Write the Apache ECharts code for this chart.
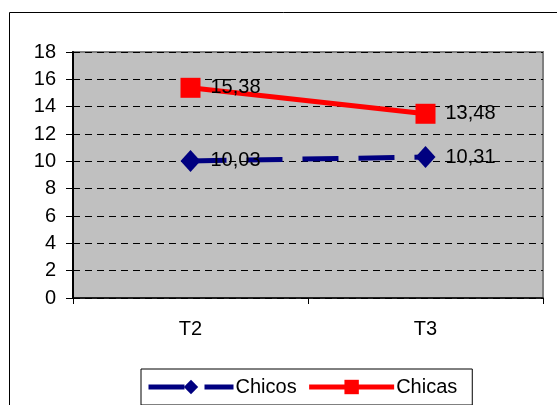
<!DOCTYPE html>
<html>
<head>
<meta charset="utf-8">
<script src="https://cdn.jsdelivr.net/npm/echarts@6/dist/echarts.min.js"></script>
<style>
  html, body { margin: 0; padding: 0; background: #fff; }
  #chart { width: 557px; height: 405px; }
</style>
</head>
<body>
<div id="chart"></div>
<script>
// Categories and series values
const categories = ['T2', 'T3'];
const chicos = [10.03, 10.31];
const chicas = [15.38, 13.48];
const yTicks = [0, 2, 4, 6, 8, 10, 12, 14, 16, 18];

const FONT = 'Liberation Sans, Arial, sans-serif';
const FS = 20;
const fmt = v => v.toFixed(2).replace('.', ',');

const chart = echarts.init(document.getElementById('chart'), null, { renderer: 'canvas' });

const labelCfg = {
  show: true,
  position: 'right',
  distance: 10,
  color: '#000',
  fontFamily: FONT,
  fontSize: FS,
  formatter: p => fmt(p.value)
};

const navyLine = { color: '#000080', width: 5, type: [36, 20] };
const redLine = { color: '#ff0000', width: 5 };

chart.setOption({
  animation: false,
  backgroundColor: '#fff',
  graphic: [{
    type: 'rect',
    shape: { x: 9.5, y: 12.5, width: 600, height: 450 },
    style: { fill: 'none', stroke: '#000', lineWidth: 1 },
    z: -10
  }],
  grid: {
    left: 73, right: 14, top: 52, bottom: 107,
    show: true,
    backgroundColor: '#c0c0c0',
    borderColor: '#808080',
    borderWidth: 2
  },
  xAxis: {
    type: 'category',
    data: categories,
    boundaryGap: true,
    axisLine: { lineStyle: { color: '#000', width: 1.5 } },
    axisTick: { show: true, length: 6, inside: false, lineStyle: { color: '#000' } },
    axisLabel: { color: '#000', fontFamily: FONT, fontSize: FS, margin: 21 },
    splitLine: { show: false }
  },
  yAxis: {
    type: 'value',
    min: yTicks[0],
    max: yTicks[yTicks.length - 1],
    interval: 2,
    axisLine: { show: true, lineStyle: { color: '#000', width: 2 } },
    axisTick: { show: true, length: 7, lineStyle: { color: '#000' } },
    axisLabel: { color: '#000', fontFamily: FONT, fontSize: FS, margin: 17 },
    splitLine: { show: true, lineStyle: { color: '#000', width: 1, type: [7, 5] } }
  },
  legend: {
    left: 141,
    top: 369,
    orient: 'horizontal',
    backgroundColor: '#fff',
    borderColor: '#000',
    borderWidth: 1,
    padding: [8, 15, 8, 5],
    itemWidth: 85,
    itemHeight: 18,
    itemGap: 10,
    textStyle: { color: '#000', fontFamily: FONT, fontSize: FS, padding: [0, 0, 0, -3] },
    data: [
      { name: 'Chicos', lineStyle: navyLine },
      { name: 'Chicas', lineStyle: redLine }
    ]
  },
  series: [
    {
      name: 'Chicos',
      type: 'line',
      data: chicos,
      symbol: 'diamond',
      symbolSize: [20, 22],
      itemStyle: { color: '#000080' },
      lineStyle: navyLine,
      label: labelCfg,
      z: 3
    },
    {
      name: 'Chicas',
      type: 'line',
      data: chicas,
      symbol: 'rect',
      symbolSize: 20,
      itemStyle: { color: '#ff0000' },
      lineStyle: redLine,
      label: labelCfg,
      z: 4
    }
  ]
});
</script>
</body>
</html>
